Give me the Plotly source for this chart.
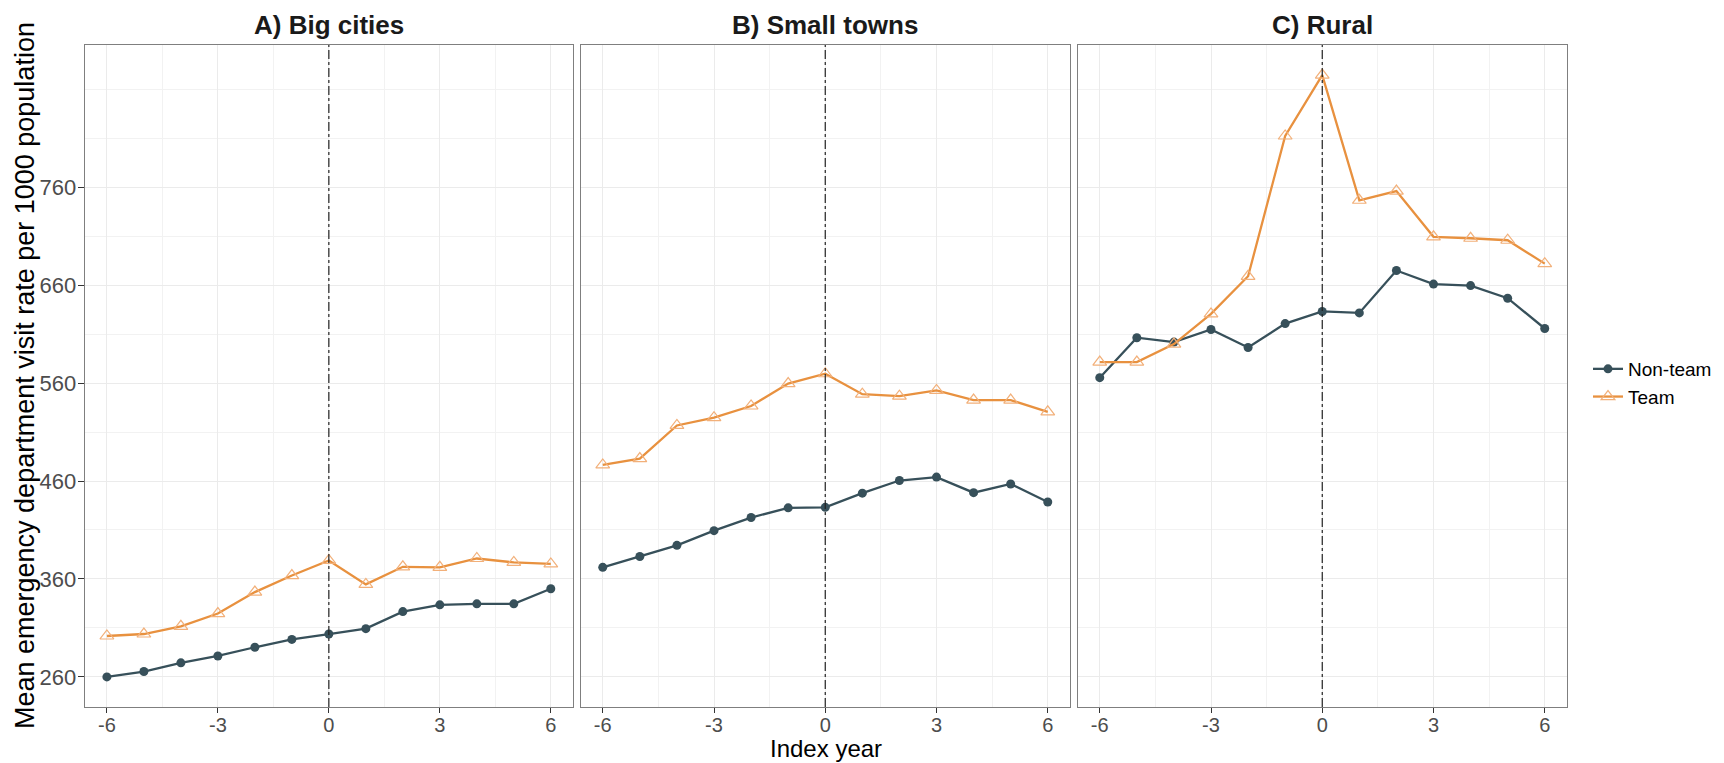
import plotly.graph_objects as go

years = [-6, -5, -4, -3, -2, -1, 0, 1, 2, 3, 4, 5, 6]
panels = ["A) Big cities", "B) Small towns", "C) Rural"]

big_nonteam = [260.0, 265.5, 274.4, 281.4, 290.3, 298.3, 303.8, 309.3, 326.7, 333.6, 334.6, 334.6, 350.0]
big_team = [301.8, 303.8, 311.7, 324.7, 346.6, 363.5, 378.9, 354.5, 372.4, 371.9, 380.9, 376.9, 375.4]
small_nonteam = [371.9, 382.9, 394.3, 409.3, 422.7, 432.6, 433.1, 447.6, 460.5, 464.0, 448.1, 457.0, 438.6]
small_team = [476.4, 482.9, 516.7, 524.7, 536.6, 559.5, 569.5, 548.6, 546.6, 552.5, 542.6, 542.6, 530.6]
rural_nonteam = [565.5, 606.3, 601.8, 614.7, 596.3, 620.7, 633.1, 631.6, 674.9, 661.0, 659.5, 646.6, 615.7]
rural_team = [581.4, 581.4, 599.8, 630.6, 669.0, 812.2, 874.4, 746.6, 756.0, 709.3, 707.8, 705.8, 681.9]

nonteam_series = [big_nonteam, small_nonteam, rural_nonteam]
team_series = [big_team, small_team, rural_team]

y_ticks = [260, 360, 460, 560, 660, 760]
x_ticks = [-6, -3, 0, 3, 6]
x_ticktext = ["-6", "-3", "0", "3", "6"]

NONTEAM_COLOR = "#37505A"
TEAM_COLOR = "#E8913F"
TEAM_MARKER = "#F2B07A"

W, H = 1724, 763


def px_x(v):
    return v / W


def px_y(v):
    return 1 - v / H


x_px = [(84.7, 573.0), (580.5, 1070.0), (1077.5, 1567.0)]
y_px = (45.0, 707.0)
ydom = [px_y(y_px[1]), px_y(y_px[0])]

fig = go.Figure()
for i in range(3):
    xa = "x" if i == 0 else f"x{i+1}"
    ya = "y" if i == 0 else f"y{i+1}"
    fig.add_trace(go.Scatter(
        x=years, y=nonteam_series[i], mode="lines+markers", name="Non-team",
        legendgroup="nt", showlegend=(i == 0), xaxis=xa, yaxis=ya,
        line=dict(color=NONTEAM_COLOR, width=2.3),
        marker=dict(symbol="circle", size=9, color=NONTEAM_COLOR)))
    fig.add_trace(go.Scatter(
        x=years, y=team_series[i], mode="lines+markers", name="Team",
        legendgroup="t", showlegend=(i == 0), xaxis=xa, yaxis=ya,
        line=dict(color=TEAM_COLOR, width=2.3),
        marker=dict(symbol="triangle-up-open", size=12, color=TEAM_MARKER,
                    line=dict(width=1.2, color=TEAM_MARKER))))
    fig.add_shape(type="line", x0=0, x1=0, y0=0, y1=1, xref=xa,
                  yref=f"{ya} domain", line=dict(color="#222222", width=1.2, dash="dashdot"))
    fig.add_annotation(text=f"<b>{panels[i]}</b>", x=px_x((x_px[i][0] + x_px[i][1]) / 2),
                       y=px_y(25), xref="paper", yref="paper", showarrow=False,
                       font=dict(size=26, color="#1a1a1a"), xanchor="center", yanchor="middle")

    xaxis = dict(domain=[px_x(x_px[i][0]), px_x(x_px[i][1])], range=[-6.6, 6.6],
                 tickvals=x_ticks, ticktext=x_ticktext, ticks="outside", ticklen=5,
                 tickcolor="#333333", tickfont=dict(size=20, color="#4d4d4d"),
                 ticklabelstandoff=-5,
                 showgrid=True, gridcolor="#EBEBEB", gridwidth=1.1,
                 minor=dict(dtick=1.5, tick0=-6, showgrid=True, gridcolor="#F2F2F2", gridwidth=0.6),
                 showline=True, mirror=True, linecolor="#7F7F7F", linewidth=1.2,
                 zeroline=False, anchor=ya)
    yaxis = dict(domain=ydom, range=[229.3, 905.1], tickvals=y_ticks,
                 ticks="outside" if i == 0 else "", ticklen=6, tickcolor="#333333",
                 showticklabels=(i == 0), tickfont=dict(size=22, color="#4d4d4d"),
                 ticklabelstandoff=-3,
                 showgrid=True, gridcolor="#EBEBEB", gridwidth=1.1,
                 minor=dict(dtick=50, tick0=260, showgrid=True, gridcolor="#F2F2F2", gridwidth=0.6),
                 showline=True, mirror=True, linecolor="#7F7F7F", linewidth=1.2,
                 zeroline=False, anchor=xa)
    if i > 0:
        yaxis["matches"] = "y"
    fig.layout[f"xaxis{'' if i == 0 else i+1}"] = xaxis
    fig.layout[f"yaxis{'' if i == 0 else i+1}"] = yaxis

fig.add_annotation(text="Mean emergency department visit rate per 1000 population",
                   x=px_x(25), y=px_y(376), xref="paper", yref="paper", textangle=-90,
                   showarrow=False, font=dict(size=27, color="#000000"),
                   xanchor="center", yanchor="middle")
fig.add_annotation(text="Index year", x=px_x((x_px[0][0] + x_px[2][1]) / 2), y=px_y(748),
                   xref="paper", yref="paper", showarrow=False,
                   font=dict(size=24, color="#000000"), xanchor="center", yanchor="middle")

fig.update_layout(
    width=W, height=H, margin=dict(l=0, r=0, t=0, b=0),
    paper_bgcolor="white", plot_bgcolor="white",
    font=dict(family="Liberation Sans, Arial, sans-serif"),
    legend=dict(x=px_x(1588), y=px_y(383), xanchor="left", yanchor="middle",
                font=dict(size=19, color="#000000"), tracegroupgap=0, itemwidth=30,
                bgcolor="rgba(0,0,0,0)"),
)

fig.write_html("out.html", config={"displayModeBar": False},
               post_script="document.body.style.margin='0px';")
